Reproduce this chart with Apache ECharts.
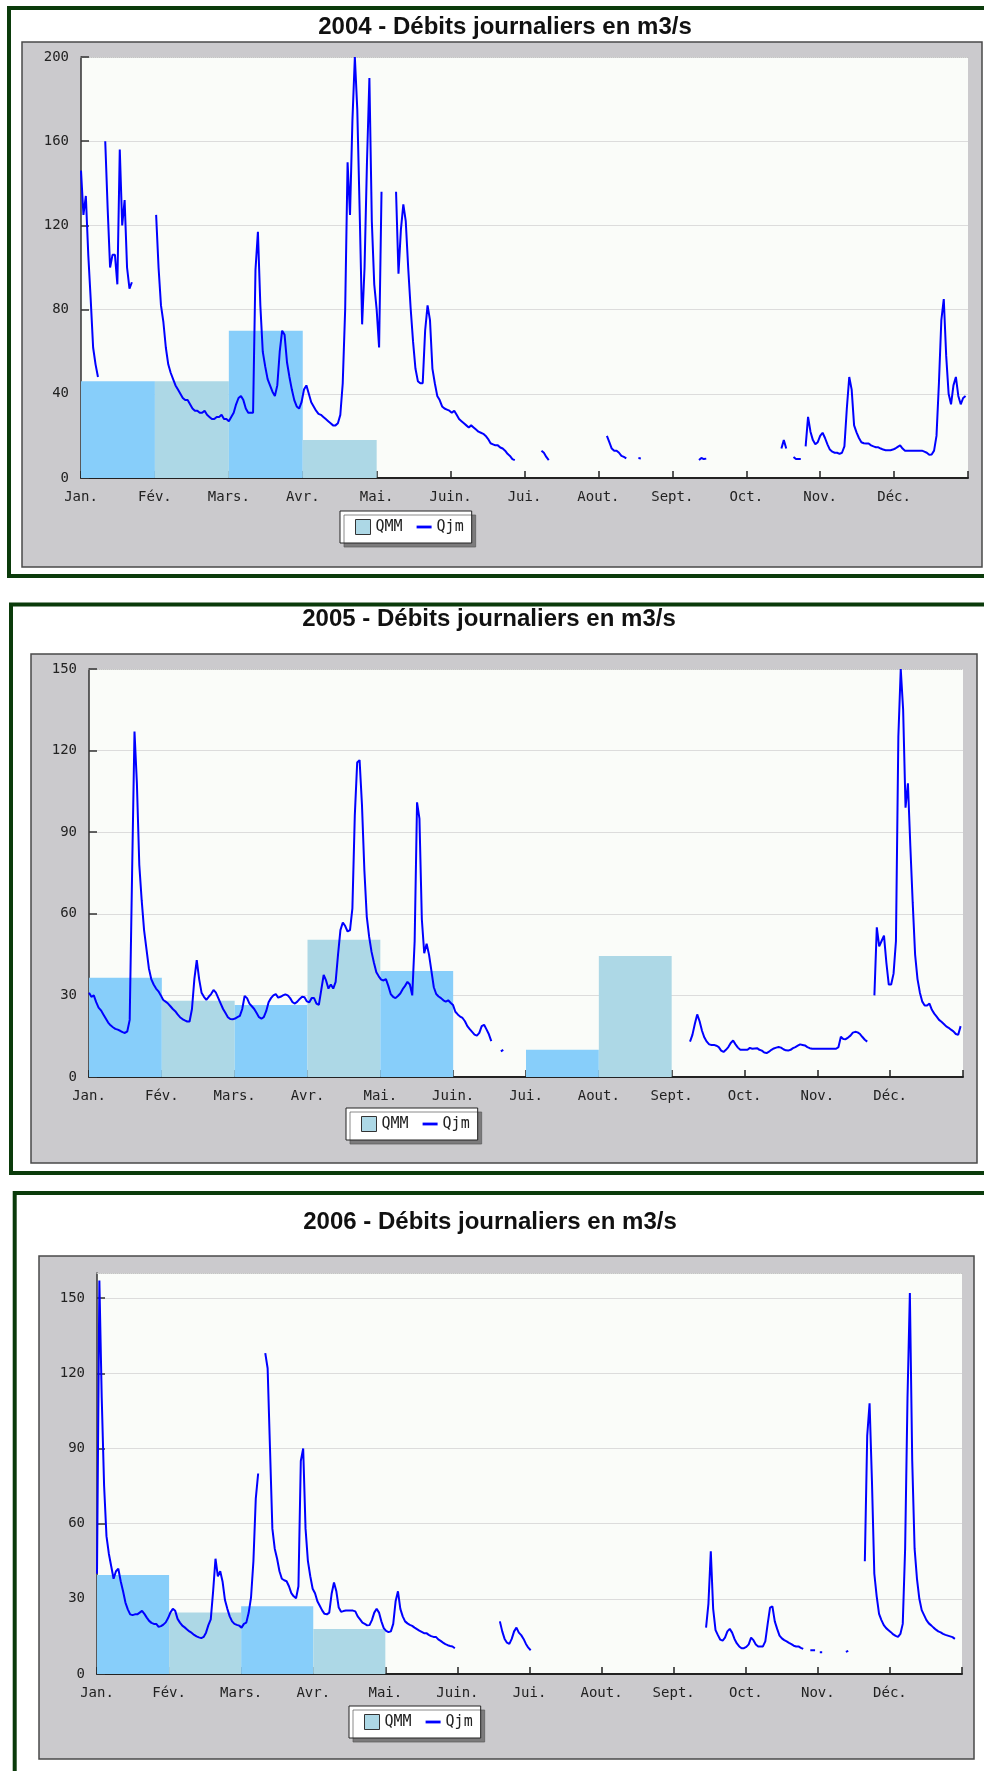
<!DOCTYPE html>
<html><head><meta charset="utf-8">
<script src="https://cdn.jsdelivr.net/npm/echarts@6/dist/echarts.min.js"></script>
<style>html,body{margin:0;padding:0;background:#fff}#c{width:984px;height:1771px}</style>
</head><body><div id="c"></div>
<script>
const months = ['Jan.','Fév.','Mars.','Avr.','Mai.','Juin.','Jui.','Aout.','Sept.','Oct.','Nov.','Déc.'];
const titles = ['2004 - Débits journaliers en m3/s','2005 - Débits journaliers en m3/s','2006 - Débits journaliers en m3/s'];
const yMax = [200,150,160];
const yStep = [40,30,30];

const qmm2004 = [46,46,70,18,null,null,null,null,null,null,null,null];
const qmm2005 = [36.5,28,26.5,50.5,39,null,10,44.5,null,null,null,null];
const qmm2006 = [39.5,24.5,27,18,null,null,null,null,null,null,null,null];

const qjm2004 = [
// Jan
146,125,134,106,85,62,54,48,null,null,160,128,100,106,106,92,156,120,132,100,90,93,null,null,null,null,null,null,null,null,null,
// Feb
125,100,82,74,62,54,50,47,44,42,40,38,37,37,35,33,32,32,31,31,32,30,29,28,28,29,29,30,28,
// Mar
28,27,29,31,35,38,39,37,33,31,31,31,99,117,82,60,53,47,44,41,39,44,60,70,68,55,48,42,37,34,33,
// Apr
36,42,44,40,36,34,32,30.5,30,29,28,27,26,25,25,26,30,45,80,150,125,170,200,175,126,73,100,150,190,122,
// May
92,80,62,136,null,null,null,null,null,136,97,118,130,122,100,81,65,52,46,45,45,70,82,75,52,45,39,37,34,33,32.5,
// Jun
32,31,32,30,28,27,26,25,24,25,24,23,22,21.5,21,20,18.5,16.5,16,15.5,15.5,14.5,14,13,11.5,10.5,9,8.5,null,null,
// Jul
null,null,null,null,null,null,null,null,13,12,10,8.5,null,null,null,null,null,null,null,null,null,null,null,null,null,null,null,null,null,null,null,
// Aug
null,null,null,null,20,17,14,13,13,12,10.5,10,9.3,null,null,null,null,9.5,9.3,null,null,null,null,null,null,null,null,null,null,null,null,
// Sep
null,null,null,null,null,null,null,null,null,null,null,8.5,9.5,9,9.2,null,null,null,null,null,null,null,null,null,null,null,null,null,null,null,
// Oct
null,null,null,null,null,null,null,null,null,null,null,null,null,null,null,14,18,14,null,null,10,9,9,9,null,15,29,22,18,16,17,
// Nov
20,21.5,19,16,13.5,12.5,12,12,11.5,12,15,33,48,42,25,21.7,19,17,16.5,16.4,16.4,15.5,15,14.6,14.6,14,13.5,13.2,13.2,13.2,
// Dec
13.5,14,14.8,15.5,14,13,13,13,13,13,13,13,13,12.5,12,11,11.2,13,20,45,75,85,58,40,35,44,48,39,35,38,39
];

const qjm2005 = [
// Jan
31,29.5,30,27.5,25.5,24.5,23,21.5,20,19,18.3,17.7,17.4,17,16.5,16.2,16.8,21,75,127,108,78,65,54,47,40,36,34,32.5,31.5,30,
// Feb
28.3,27.7,27,26,25,24.2,23,22,21.3,20.8,20.4,20.4,25,36,43,36,31,29.5,28.4,29.5,30.5,32,31,29,27,25,23.5,22,
// Mar
21.3,21.2,21.5,22,22.5,25,29.8,29,27,26,25,23.5,22,21.5,22,24.2,27.5,29,30,30.5,29.2,29.5,30,30.4,30,29,27.5,27,27.7,28.7,29.5,
// Apr
29.3,27.8,27.5,29,29,27,26.5,32,37.5,35.5,32.5,34,32.5,35,45,54,56.8,55.5,53.5,54,62,96,115.6,116.5,100,76,59,51.5,46,42,
// May
38.5,37,35.8,35.5,36,33.5,30.5,29.5,29,29.8,30.7,32.3,33.5,35,34,30,50,101,95,58,45.5,49,45,39,33,30.5,29.6,29,28.2,27.7,28.2,
// Jun
27.3,26.5,24,23,22.2,21.7,20.5,18.7,17.6,16.6,15.6,15.2,16.2,18.7,19.2,17.5,15.7,13.2,null,null,null,9.4,10,null,null,null,null,null,null,null,
// Jul
null,null,null,null,null,null,null,null,null,null,null,null,null,null,null,null,null,null,null,null,null,null,null,null,null,null,null,null,null,null,null,
// Aug
null,null,null,null,null,null,null,null,null,null,null,null,null,null,null,null,null,null,null,null,null,null,null,null,null,null,null,null,null,null,null,
// Sep
null,null,null,null,null,null,null,null,13,15.5,19.5,23,20.5,17,14.5,13,12,11.8,11.8,11.5,11,9.7,9.2,10,11,12.5,13.4,12,10.8,10,
// Oct
10,10,10,10.7,10.4,10.5,10.6,10,9.7,9,8.8,9.3,10,10.5,10.8,11,10.8,10.2,9.8,9.7,10,10.6,11,11.5,12,11.8,11.6,11,10.6,10.4,10.4,
// Nov
10.4,10.4,10.4,10.4,10.4,10.4,10.4,10.4,10.4,11,14.8,14,13.9,14.5,15.2,16.3,16.6,16.4,15.8,14.7,13.7,13,null,null,30,55,48,50,52,42,
// Dec
34,34,38,50,125,150,135,99,108,85,64,45,36,31,27.7,26.3,26.3,27,24.7,23.3,22.2,21,20.3,19.5,18.6,18.1,17.4,16.8,15.8,15.5,18.7
];

const qjm2006 = [
// Jan
40,157,110,75,55,48,43,38,41,42,37,33,28.5,25.8,23.8,23.5,23.8,23.8,24.5,25.2,24,22.5,21.2,20.4,20,20,18.8,19.1,19.7,20.6,22.3,
// Feb
24.6,26,25.2,22,20.5,19.3,18.6,17.8,17,16.4,15.6,15,14.6,14.3,14.8,16.5,19.5,21.8,33,46,39,41,36.8,29.5,26,23,21,20,
// Mar
19.6,19.3,18.5,20,20.5,24.4,30.6,45,70,80,null,null,128,122,90,58,50,46,41,38,37.4,37,35,32.3,31,30.2,35,85,90,58,45,
// Apr
39,34,32.2,29,27.2,25.4,24,23.8,24.5,32,36.5,33,26.5,24.8,25.1,25.3,25.3,25.3,25.3,25,23,21.8,20.5,20,19.4,19.5,21.5,24.5,26,24.5,
// May
21,18.3,17.2,16.7,17,20,29,33,26,23,21,20.2,19.6,19.2,18.5,17.9,17.3,16.8,16.3,16.3,15.6,15.1,14.8,14.8,13.8,13.2,12.5,11.9,11.5,11.2,11,
// Jun
10.3,null,null,null,null,null,null,null,null,null,null,null,null,null,null,null,null,null,null,21,17,14,12.5,12,14,17,18.5,16.5,15.5,14,
// Jul
12,10.5,9.5,null,null,null,null,null,null,null,null,null,null,null,null,null,null,null,null,null,null,null,null,null,null,null,null,null,null,null,null,
// Aug
null,null,null,null,null,null,null,null,null,null,null,null,null,null,null,null,null,null,null,null,null,null,null,null,null,null,null,null,null,null,null,
// Sep
null,null,null,null,null,null,null,null,null,null,null,null,null,null,18.5,28,49,26,17.5,15.5,13.7,13.3,14.5,17,18,16.5,14,12.2,11,10.3,
// Oct
10.3,10.8,11.8,14.5,13.5,11.8,11,11,11,13,20,26.5,27,21,18,15.3,14.2,13.5,13,12.4,11.9,11.3,11,11,10.4,10,null,null,9.5,9.5,9.5,
// Nov
null,8.7,8.7,null,null,null,null,null,null,null,null,null,8.8,9.2,null,null,null,null,null,null,45,95,108,77,40,31,24,21.5,19.5,18.3,
// Dec
17.5,16.7,15.8,15.2,14.8,16,20,50,110,152,85,50,38,30,25.5,23.5,21.5,20.2,19.4,18.5,17.7,17,16.6,16,15.6,15.3,15,14.7,14,null,null
];

const qmmAll = [qmm2004, qmm2005, qmm2006];
const qjmAll = [qjm2004, qjm2005, qjm2006];

// layout (pixels)
const grids = [
  {left:81, top:57, width:887, height:421},
  {left:89, top:669, width:874, height:408},
  {left:97, top:1273, width:865, height:401}
];
const panels = [
  {x:22, y:42, width:960, height:525},
  {x:31, y:654, width:946, height:509},
  {x:39, y:1256, width:935, height:503}
];
const frames = [
  {x:9, y:8, width:1000, height:568},
  {x:11, y:604.5, width:1000, height:568.5},
  {x:14.7, y:1193, width:1000, height:700}
];
const titlePos = [[505,15],[489,607.5],[490,1210]];
const legendPos = [[340,511],[346,1108],[349,1706]];

const MONO = "'DejaVu Sans Mono', monospace";
const chart = echarts.init(document.getElementById('c'), null, {renderer:'canvas'});

const option = {
  animation:false,
  backgroundColor:'#ffffff',
  graphic:{
    z:-1,
    elements:[].concat(
      frames.map(f=>({type:'rect', shape:f, style:{fill:'#ffffff', stroke:'#0b3b0b', lineWidth:4}})),
      panels.map(p=>({type:'rect', shape:p, style:{fill:'#cbcacd', stroke:'#4a4a4a', lineWidth:1.5}})),
      grids.map(g=>({type:'rect', shape:{x:g.left, y:g.top, width:g.width, height:g.height}, style:{fill:'#fafcf9'}}))
    )
  },
  title: titles.map((t,i)=>({
    text:t, left:titlePos[i][0], top:titlePos[i][1], textAlign:'center', textVerticalAlign:'top', padding:0,
    textStyle:{fontFamily:"'Liberation Sans', Arial, sans-serif", fontWeight:'bold', fontSize:24, color:'#111'}
  })),
  legend: legendPos.map((p,i)=>({
    left:p[0], top:p[1], orient:'horizontal',
    padding:[8,8,8,15], itemGap:14, itemWidth:15, itemHeight:15,
    backgroundColor:'#ffffff', borderColor:'#222', borderWidth:1,
    shadowColor:'rgba(90,90,90,0.7)', shadowOffsetX:4, shadowOffsetY:4, shadowBlur:0,
    textStyle:{fontFamily:MONO, fontSize:15, color:'#222'},
    selectedMode:false,
    data:[
      {name:'QMM', icon:'rect', itemStyle:{color:'#ADD8E6', borderColor:'#333', borderWidth:1}},
      {name:'Qjm', icon:'path://M0,0 L16,0 L16,3 L0,3 Z', itemStyle:{color:'#0000FF'}}
    ]
  })),
  grid: grids.map(g=>Object.assign({show:false, containLabel:false}, g)),
  xAxis: [].concat(...grids.map((g,i)=>[
    {type:'value', gridIndex:i, min:0, max:12, interval:1, position:'bottom',
     axisLine:{show:true, onZero:false, lineStyle:{color:'#222', width:2}},
     axisTick:{show:true, inside:true, length:7, lineStyle:{color:'#222', width:1.5}},
     axisLabel:{show:true, margin:12, color:'#222', fontFamily:MONO, fontSize:14, formatter:v=>months[v]||''},
     splitLine:{show:false}},
    {type:'value', gridIndex:i, min:0, max:12, position:'top',
     axisLine:{show:true, onZero:false, lineStyle:{color:'#c4c4c4', type:'dotted', width:1}},
     axisTick:{show:false}, axisLabel:{show:false}, splitLine:{show:false}}
  ])),
  yAxis: grids.map((g,i)=>{
    const ticks=[]; for(let v=0; v<=yMax[i]; v+=yStep[i]) ticks.push(v);
    const colors = ticks.map(v=>'#dcdcdc');
    if (ticks[ticks.length-1]===yMax[i]) colors[colors.length-1]='rgba(0,0,0,0)'; else colors.push('rgba(0,0,0,0)');
    return {type:'value', gridIndex:i, min:0, max:yMax[i], interval:yStep[i],
      axisLine:{show:true, onZero:false, lineStyle:{color:'#333', width:1.5}},
      axisTick:{show:true, inside:true, length:8, lineStyle:{color:'#333', width:1.5}, customValues:ticks},
      axisLabel:{show:true, margin:12, color:'#222', fontFamily:MONO, fontSize:14, customValues:ticks,
                 formatter:v=>(ticks.indexOf(v)>=0? String(v):'')},
      splitLine:{show:true, lineStyle:{color:colors, width:1.2}}};
  }),
  series: [].concat(...grids.map((g,i)=>{
    const q = qmmAll[i], d = qjmAll[i], n = d.length;
    return [
      {type:'custom', name:'QMM', xAxisIndex:i*2, yAxisIndex:i, z:1,
       data:q.map((v,m)=>[m,v]).filter(p=>p[1]!=null),
       encode:{x:0,y:1},
       renderItem:(params,api)=>{
         const m=api.value(0), v=api.value(1);
         const p0=api.coord([m,v]), p1=api.coord([m+1,0]);
         return {type:'rect', shape:{x:p0[0], y:p0[1], width:p1[0]-p0[0], height:p1[1]-p0[1]},
                 style:{fill: (m%2===0)?'#87CEFA':'#ADD8E6'}};
       }},
      {type:'line', name:'Qjm', xAxisIndex:i*2, yAxisIndex:i, z:3,
       data:d.map((v,k)=>[12*k/n, v==null?'-':v]),
       showSymbol:false, symbol:'none', connectNulls:false, smooth:false,
       color:'#0000FF', lineStyle:{color:'#0000FF', width:2}}
    ];
  }))
};
chart.setOption(option);
</script>
</body></html>
